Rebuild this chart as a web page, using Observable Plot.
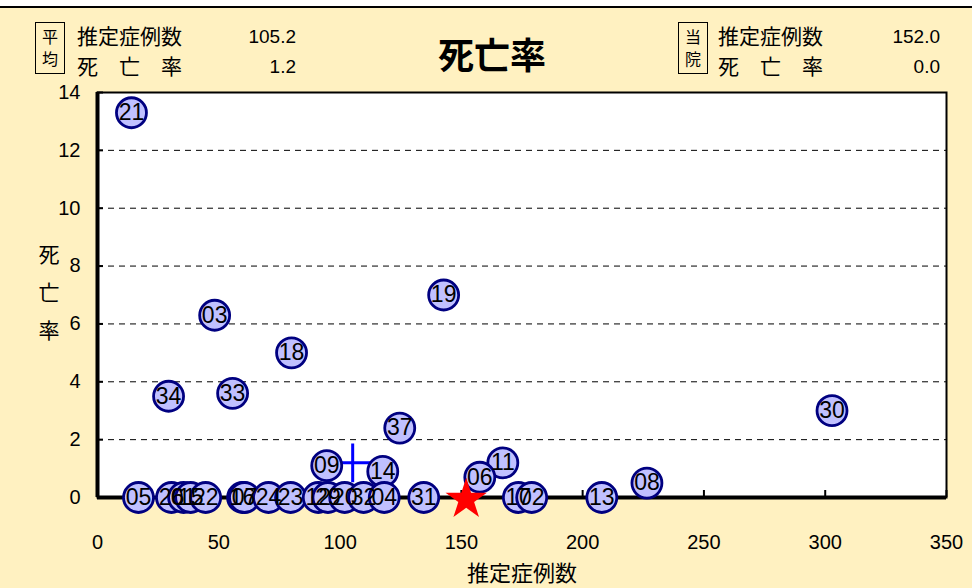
<!DOCTYPE html>
<html>
<head>
<meta charset="utf-8">
<script src="https://cdn.jsdelivr.net/npm/d3@7"></script>
<script src="https://cdn.jsdelivr.net/npm/@observablehq/plot@0.6"></script>
<style>
  html, body { margin: 0; padding: 0; background: #FFF1C1; }
  #wrap { position: relative; width: 972px; height: 588px; overflow: hidden; background: #FFF1C1;
          font-family: "Liberation Sans", "Noto Sans CJK JP", sans-serif; color: #000; }
  #wrap svg { position: absolute; left: 0; top: 0; }
  .abs { position: absolute; white-space: pre; line-height: 1; }
  .box { position: absolute; border: 1.5px solid #000; box-sizing: border-box; font-family: "Noto Sans CJK JP", sans-serif;
         font-size: 16px; text-align: center; line-height: 22px; padding-top: 2px; }
  .jp { font-family: "Noto Sans CJK JP", sans-serif; font-size: 21px; }
  .num { font-size: 19px; text-align: right; }
</style>
</head>
<body>
<div id="wrap"></div>
<script>
// ---- data ----
const ids = ["21","03","18","34","33","19","37","30","09","14","11","06","08",
             "05","26","01","15","22","16","07","24","23","12","29","20","32","04","31","17","02","13"];
const cases = [14.0, 48.3, 80.0, 29.3, 55.7, 142.7, 124.6, 302.8, 94.5, 117.6, 167.1, 157.6, 226.5,
               16.9, 30.5, 35.5, 38.4, 44.6, 59.8, 60.6, 70.5, 79.6, 91.0, 95.0, 101.9, 109.7, 118.2, 134.5, 173.5, 179.0, 207.9];
const mortality = [13.3, 6.3, 5.0, 3.5, 3.6, 7.0, 2.4, 3.0, 1.1, 0.9, 1.2, 0.7, 0.5,
                   0, 0, 0, 0, 0, 0, 0, 0, 0, 0, 0, 0, 0, 0, 0, 0, 0, 0];
const avgCases = 105.2, avgMortality = 1.2;
const ownCases = 152.0, ownMortality = 0.0;
const xTicks = [0, 50, 100, 150, 200, 250, 300, 350];
const yTicks = [0, 2, 4, 6, 8, 10, 12, 14];
const gridTicks = [2, 4, 6, 8, 10, 12];
const title = "死亡率";
const xLabel = "推定症例数";
const yLabel = "死\n亡\n率";

const data = ids.map((id, i) => ({id, x: cases[i], y: mortality[i]}));
const avg = [{x: avgCases, y: avgMortality}];
const own = [{x: ownCases, y: ownMortality}];

const labelFont = "'Liberation Sans Narrow', 'Liberation Sans', sans-serif";

const chart = Plot.plot({
  width: 972, height: 588,
  marginLeft: 97, marginRight: 26, marginTop: 92, marginBottom: 91,
  x: {domain: [0, 350], ticks: xTicks},
  y: {domain: [0, 14], ticks: yTicks},
  style: {background: "transparent", fontFamily: "'Liberation Sans', 'Noto Sans CJK JP', sans-serif", fontSize: "20px", color: "#000"},
  marks: [
    Plot.frame({fill: "white", stroke: "none"}),
    Plot.gridY(gridTicks, {stroke: "#000", strokeOpacity: 1, strokeWidth: 1, strokeDasharray: "6,5"}),
    Plot.frame({stroke: "#000", strokeWidth: 2}),
    Plot.ruleX([0], {stroke: "#000", strokeWidth: 4}),
    Plot.ruleY([0], {stroke: "#000", strokeWidth: 4}),
    Plot.axisX({ticks: xTicks, tickSize: 0, tickPadding: 37, label: null, fontSize: 20}),
    Plot.axisX({ticks: xTicks, tickSize: -7, text: null, label: null, strokeWidth: 2}),
    Plot.axisY({ticks: yTicks, tickSize: 0, tickPadding: 17, label: null, fontSize: 20}),
    Plot.axisY({ticks: yTicks, tickSize: -6, text: null, label: null, strokeWidth: 2}),
    Plot.dot(avg, {x: "x", y: "y", symbol: "plus", r: 12.5, stroke: "#0000FF", strokeWidth: 3}),
    Plot.dot(data, {x: "x", y: "y", r: 15, fill: "#C0C0FF", stroke: "#000080", strokeWidth: 2.8}),
    Plot.text(data, {x: "x", y: "y", text: "id", fontSize: 23, fontFamily: labelFont, fill: "#000"}),
    Plot.dot(own, {x: "x", y: "y", symbol: "star", r: 13, fill: "#FF0000", stroke: "none", dy: 2}),
    Plot.text([xLabel], {frameAnchor: "bottom", dy: 83, fontSize: 22, fontFamily: "Noto Sans CJK JP"}),
    Plot.text([yLabel], {frameAnchor: "left", dx: -59, dy: -7, lineHeight: 1.79, fontSize: 21, fontFamily: "Noto Sans CJK JP"})
  ]
});

const wrap = document.getElementById("wrap");
wrap.appendChild(chart);

function add(html) { wrap.insertAdjacentHTML("beforeend", html); }
// top strip
add(`<div class="abs" style="left:0;top:0;width:972px;height:6px;background:#fff"></div>`);
add(`<div class="abs" style="left:0;top:6px;width:972px;height:2px;background:#000"></div>`);
// left header (average)
add(`<div class="box" style="left:35px;top:22px;width:30px;height:52px">平<br>均</div>`);
add(`<div class="abs jp" style="left:77px;top:25px">推定症例数</div>`);
add(`<div class="abs jp" style="left:77px;top:55px">死　亡　率</div>`);
add(`<div class="abs num" style="left:196px;width:100px;top:27px">${avgCases.toFixed(1)}</div>`);
add(`<div class="abs num" style="left:196px;width:100px;top:57px">${avgMortality.toFixed(1)}</div>`);
// right header (own hospital)
add(`<div class="box" style="left:678px;top:22px;width:30px;height:52px">当<br>院</div>`);
add(`<div class="abs jp" style="left:718px;top:25px">推定症例数</div>`);
add(`<div class="abs jp" style="left:718px;top:55px">死　亡　率</div>`);
add(`<div class="abs num" style="left:840px;width:100px;top:27px">${ownCases.toFixed(1)}</div>`);
add(`<div class="abs num" style="left:840px;width:100px;top:57px">${ownMortality.toFixed(1)}</div>`);
// title
add(`<div class="abs" style="left:392px;width:200px;top:35px;text-align:center;font-family:'Noto Sans CJK JP';font-weight:bold;font-size:36px">${title}</div>`);
</script>
</body>
</html>
